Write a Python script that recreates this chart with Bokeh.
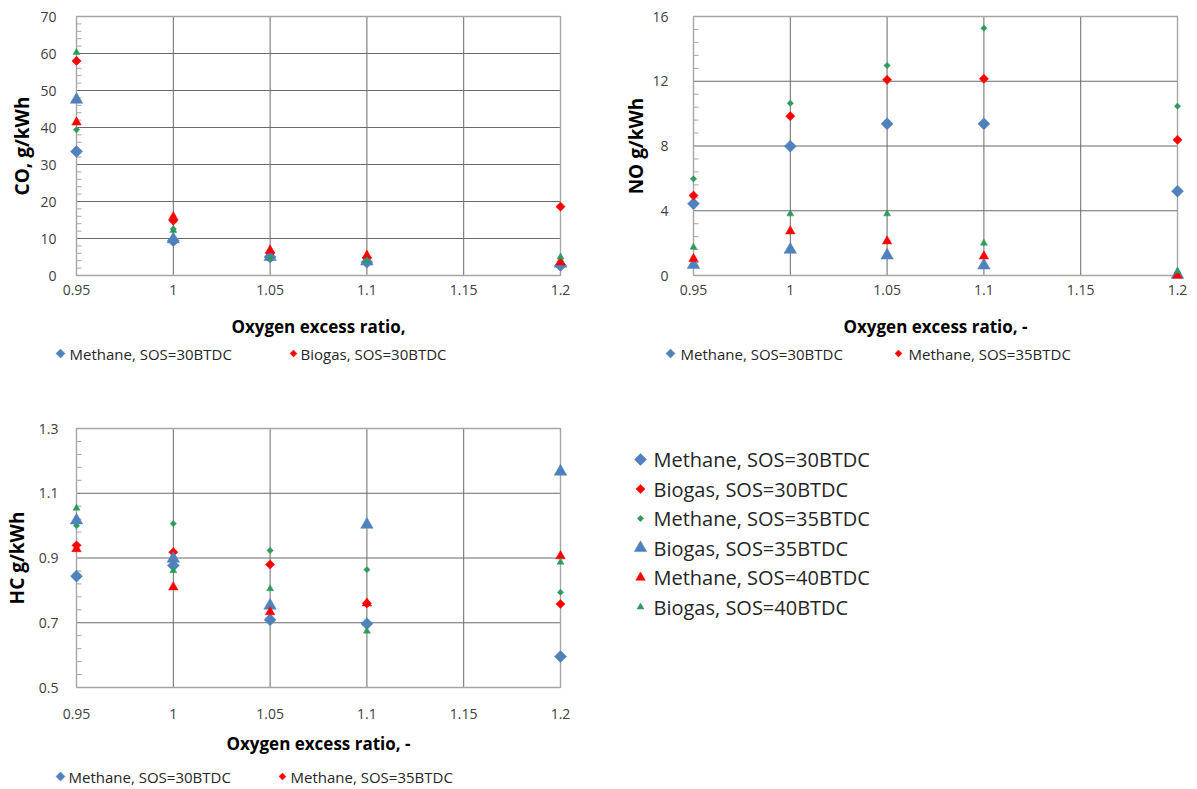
import numpy as np
from bokeh.plotting import figure
from bokeh.layouts import column, row
from bokeh.models import Range1d, FixedTicker
from bokeh.embed import file_html
from bokeh.resources import INLINE
from bokeh.core.properties import value

# Oxygen excess ratio (lambda) at which each operating point was measured
lam = [0.95, 1.0, 1.05, 1.1, 1.2]
x_ticks = [0.95, 1.0, 1.05, 1.1, 1.15, 1.2]
x_tick_labels = ["0.95", "1", "1.05", "1.1", "1.15", "1.2"]

series_names = [
    "Methane, SOS=30BTDC",
    "Biogas, SOS=30BTDC",
    "Methane, SOS=35BTDC",
    "Biogas, SOS=35BTDC",
    "Methane, SOS=40BTDC",
    "Biogas, SOS=40BTDC",
]

# CO emissions, g/kWh
co_m30 = [33.5, 9.4, 5.0, 3.6, 2.7]
co_b30 = [58.0, 14.8, 6.0, 4.8, 18.6]
co_m35 = [39.4, 12.6, 5.0, 4.3, 3.8]
co_b35 = [47.5, 9.8, 5.0, 3.8, 3.2]
co_m40 = [41.4, 15.8, 6.8, 5.4, 3.6]
co_b40 = [60.3, 12.2, 4.7, 4.0, 5.0]
co_ticks = [0, 10, 20, 30, 40, 50, 60, 70]
co_tick_labels = ["0", "10", "20", "30", "40", "50", "60", "70"]

# NO emissions, g/kWh
no_m30 = [4.43, 7.99, 9.37, 9.37, 5.21]
no_b30 = [4.94, 9.84, 12.09, 12.15, 8.38]
no_m35 = [5.97, 10.64, 12.97, 15.28, 10.46]
no_b35 = [0.66, 1.59, 1.24, 0.62, 0.05]
no_m40 = [1.03, 2.74, 2.12, 1.19, 0.0]
no_b40 = [1.75, 3.81, 3.81, 2.0, 0.27]
no_ticks = [0, 4, 8, 12, 16]
no_tick_labels = ["0", "4", "8", "12", "16"]

# HC emissions, g/kWh
hc_m30 = [0.844, 0.877, 0.709, 0.697, 0.596]
hc_b30 = [0.939, 0.918, 0.880, 0.760, 0.758]
hc_m35 = [1.000, 1.006, 0.923, 0.864, 0.794]
hc_b35 = [1.016, 0.898, 0.753, 1.003, 1.167]
hc_m40 = [0.928, 0.810, 0.733, 0.760, 0.906]
hc_b40 = [1.054, 0.861, 0.805, 0.674, 0.887]
hc_ticks = [0.5, 0.7, 0.9, 1.1, 1.3]
hc_tick_labels = ["0.5", "0.7", "0.9", "1.1", "1.3"]

# x-axis titles and the legends printed under the individual charts
co_xtitle = "Oxygen excess ratio,"
no_xtitle = "Oxygen excess ratio, -"
hc_xtitle = "Oxygen excess ratio, -"
co_legend = [series_names[0], series_names[1]]
no_legend = [series_names[0], series_names[2]]
hc_legend = [series_names[0], series_names[2]]

FONT = "Open Sans"
BLUE = "#4F81BD"
RED = "#FF0000"
GREEN = "#2E9B5E"
GRID = "#6A6A6A"
FRAME = "#A6A6A6"
TICK_TEXT = "#404040"
D45 = np.pi / 4

# marker, colour, size, angle for each series (diamonds are rotated squares)
styles = [
    ("square", BLUE, 8.5, D45),
    ("square", RED, 6.5, D45),
    ("square", GREEN, 4.5, D45),
    ("triangle", BLUE, 12.5, 0),
    ("triangle", RED, 9.5, 0),
    ("triangle", GREEN, 7, 0),
]


def chart(w, h, left, right, top, bottom, y_ticks, y_labels, ylabel,
          ys, ylab_standoff, ytitle_standoff, xlab_standoff):
    pad = 9  # keeps edge markers from being cut by the frame
    fw = w - left - right
    fh = h - top - bottom
    x0, x1 = x_ticks[0], x_ticks[-1]
    y0, y1 = y_ticks[0], y_ticks[-1]
    dx = (x1 - x0) / (fw - 2 * pad)
    dy = (y1 - y0) / (fh - 2 * pad)
    p = figure(width=w, height=h,
               x_range=Range1d(x0 - pad * dx, x1 + pad * dx),
               y_range=Range1d(y0 - pad * dy, y1 + pad * dy),
               output_backend="svg", toolbar_location=None,
               min_border_left=left, min_border_right=right,
               min_border_top=top, min_border_bottom=bottom)
    p.outline_line_color = None
    p.xgrid.visible = False
    p.ygrid.visible = False

    gx = x_ticks[1:-1]
    p.segment(x0=gx, y0=[y0] * len(gx), x1=gx, y1=[y1] * len(gx),
              line_color=GRID, line_width=1)
    gy = y_ticks[1:-1]
    p.segment(x0=[x0] * len(gy), y0=gy, x1=[x1] * len(gy), y1=gy,
              line_color=GRID, line_width=1)

    minor = [a + (b - a) * k / 5 for a, b in zip(y_ticks[:-1], y_ticks[1:])
             for k in range(1, 5)]
    p.segment(x0=[x0] * len(minor), y0=minor, x1=[x0 + 5 * dx] * len(minor),
              y1=minor, line_color=FRAME, line_width=1)

    p.quad(left=[x0], right=[x1], bottom=[y0], top=[y1], fill_color=None,
           line_color=FRAME, line_width=1.4)

    for (marker, color, size, ang), yv in zip(styles, ys):
        p.scatter(x=lam, y=yv, marker=marker, size=size, angle=ang,
                  fill_color=color, line_color=color, line_width=0.5)

    for ax in (p.xaxis[0], p.yaxis[0]):
        ax.axis_line_color = None
        ax.major_tick_line_color = None
        ax.minor_tick_line_color = None
        ax.major_tick_out = 0
        ax.major_tick_in = 0
        ax.major_label_text_font = FONT
        ax.major_label_text_font_size = "14px"
        ax.major_label_text_color = TICK_TEXT
        ax.axis_label_text_font = FONT
        ax.axis_label_text_font_style = "bold"
        ax.axis_label_text_color = "black"

    p.xaxis.ticker = FixedTicker(ticks=x_ticks)
    p.xaxis.major_label_overrides = dict(zip(x_ticks, x_tick_labels))
    p.xaxis.major_label_standoff = xlab_standoff

    p.yaxis.ticker = FixedTicker(ticks=y_ticks)
    p.yaxis.major_label_overrides = dict(zip(y_ticks, y_labels))
    p.yaxis.major_label_standoff = ylab_standoff
    p.yaxis.axis_label = ylabel
    p.yaxis.axis_label_text_font_size = "19px"
    p.yaxis.axis_label_standoff = ytitle_standoff
    return p


def canvas(w, h):
    c = figure(width=w, height=h, x_range=Range1d(0, w), y_range=Range1d(h, 0),
               output_backend="svg", toolbar_location=None, min_border=0,
               x_axis_type=None, y_axis_type=None)
    c.outline_line_color = None
    c.grid.visible = False
    return c


def legend_entry(c, style_idx, label, mx, tx, y, font_size, scale):
    marker, color, size, ang = styles[style_idx]
    c.scatter(x=[mx], y=[y], marker=marker, size=size * scale, angle=ang,
              fill_color=color, line_color=color, line_width=0.5)
    c.text(x=[tx], y=[y], text=[label], text_font=value(FONT),
           text_font_size=font_size, text_baseline="middle", text_align="left",
           text_color="#262626")


def footer(w, h, title, title_x, title_y, legend_y, entries):
    """x-axis title plus the two-entry legend below a chart."""
    c = canvas(w, h)
    c.text(x=[title_x], y=[title_y], text=[title], text_font=value(FONT),
           text_font_size="17px", text_font_style="bold",
           text_baseline="middle", text_align="center", text_color="black")
    for style_idx, label, mx, tx in entries:
        legend_entry(c, style_idx, label, mx, tx, legend_y, "15px", 0.75)
    return c


# top row: charts 314 px tall, footers 66 px
co = chart(600, 314, 67, 31, 7, 30, co_ticks, co_tick_labels, "CO, g/kWh",
           [co_m30, co_b30, co_m35, co_b35, co_m40, co_b40], 11, 2, 0)
co_foot = footer(600, 66, co_xtitle, 318, 12, 39,
                 [(0, co_legend[0], 60, 69), (1, co_legend[1], 293, 300)])

no = chart(597, 314, 84, 11, 7, 30, no_ticks, no_tick_labels, "NO g/kWh",
           [no_m30, no_b30, no_m35, no_b35, no_m40, no_b40], 16, 0, 0)
no_foot = footer(597, 66, no_xtitle, 335, 12, 39,
                 [(0, no_legend[0], 70, 80), (1, no_legend[1], 298, 308)])

# bottom row: chart 352 px tall, footer 57 px
hc = chart(600, 352, 67, 31, 39, 36, hc_ticks, hc_tick_labels, "HC g/kWh",
           [hc_m30, hc_b30, hc_m35, hc_b35, hc_m40, hc_b40], 9, 6, 12)
hc_foot = footer(600, 57, hc_xtitle, 318, 11, 44,
                 [(0, hc_legend[0], 60, 68), (1, hc_legend[1], 282, 290)])

# shared legend for all six series
key = canvas(597, 409)
for i, name in enumerate(series_names):
    legend_entry(key, i, name, 40, 53, 79 + 29.5 * i, "20px", 1.0)

# wrapping the footers keeps them at full width instead of following the
# chart frame above them
layout = column(row(column(co, row(co_foot)), column(no, row(no_foot))),
                row(column(hc, row(hc_foot)), key))

open("out.html", "w").write(file_html(layout, INLINE))
